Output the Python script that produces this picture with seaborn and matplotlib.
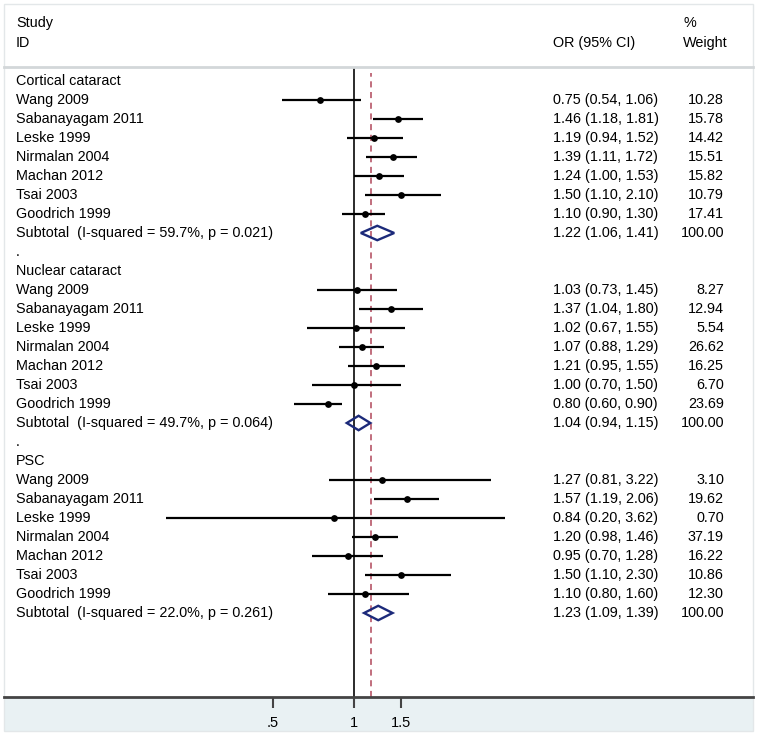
import numpy as np
import pandas as pd
import seaborn as sns
import matplotlib.pyplot as plt
from matplotlib import transforms
from matplotlib.patches import Rectangle, Polygon

# data
groups = ['Cortical cataract', 'Nuclear cataract', 'PSC']
studies = ['Wang 2009', 'Sabanayagam 2011', 'Leske 1999', 'Nirmalan 2004',
           'Machan 2012', 'Tsai 2003', 'Goodrich 1999']

or_est = [[0.75, 1.46, 1.19, 1.39, 1.24, 1.50, 1.10],
          [1.03, 1.37, 1.02, 1.07, 1.21, 1.00, 0.80],
          [1.27, 1.57, 0.84, 1.20, 0.95, 1.50, 1.10]]
ci_low = [[0.54, 1.18, 0.94, 1.11, 1.00, 1.10, 0.90],
          [0.73, 1.04, 0.67, 0.88, 0.95, 0.70, 0.60],
          [0.81, 1.19, 0.20, 0.98, 0.70, 1.10, 0.80]]
ci_high = [[1.06, 1.81, 1.52, 1.72, 1.53, 2.10, 1.30],
           [1.45, 1.80, 1.55, 1.29, 1.55, 1.50, 0.90],
           [3.22, 2.06, 3.62, 1.46, 1.28, 2.30, 1.60]]
weights = [[10.28, 15.78, 14.42, 15.51, 15.82, 10.79, 17.41],
           [8.27, 12.94, 5.54, 26.62, 16.25, 6.70, 23.69],
           [3.10, 19.62, 0.70, 37.19, 16.22, 10.86, 12.30]]

sub_or = [1.22, 1.04, 1.23]
sub_low = [1.06, 0.94, 1.09]
sub_high = [1.41, 1.15, 1.39]
sub_text = ['Subtotal  (I-squared = 59.7%, p = 0.021)',
            'Subtotal  (I-squared = 49.7%, p = 0.064)',
            'Subtotal  (I-squared = 22.0%, p = 0.261)']
overall_or = 1.156

tick_vals = [0.5, 1, 1.5]
tick_labels = ['.5', '1', '1.5']

# build row table
rows = []
for g, name in enumerate(groups):
    base = 10 * g
    for i, s in enumerate(studies):
        rows.append({'row': base + 1 + i, 'study': s, 'or': or_est[g][i],
                     'lo': ci_low[g][i], 'hi': ci_high[g][i], 'w': weights[g][i]})
df = pd.DataFrame(rows)

W, H = 757, 734
fig = plt.figure(figsize=(W / 100, H / 100), dpi=100)
fig.patch.set_facecolor('white')
plt.rcParams['font.family'] = ['Liberation Sans', 'DejaVu Sans']

def fx(px):
    return px / W

def fy(py):
    return 1 - py / H

# background band under the axis and frame
fig.add_artist(Rectangle((fx(4), fy(731)), fx(749), (731 - 698) / H,
                         transform=fig.transFigure, facecolor='#e9f1f3', edgecolor='none', zorder=0))
fig.add_artist(Rectangle((fx(4), fy(731)), fx(749), (731 - 4) / H,
                         transform=fig.transFigure, facecolor='none', edgecolor='#e3e7e9', lw=1, zorder=0))

ax = fig.add_axes([fx(4), fy(697), fx(749), (697 - 67) / H])
ax.set_facecolor('none')
ax.set_xscale('log')
ax.set_xlim(np.exp((4 - 354) / 117), np.exp((753 - 354) / 117))
ax.set_ylim((697 - 81) / 19, -(81 - 67) / 19)

# CI lines and point estimates
ax.hlines(df['row'], df['lo'], df['hi'], color='black', lw=1.6, zorder=3)
sns.scatterplot(data=df, x='or', y='row', color='black', s=24, marker='o',
                edgecolor='black', linewidth=0, ax=ax, zorder=4, legend=False)

# subtotal diamonds
for g in range(3):
    r = 10 * g + 8
    dh = 0.38
    poly = Polygon([(sub_low[g], r), (sub_or[g], r - dh), (sub_high[g], r), (sub_or[g], r + dh)],
                   closed=True, facecolor='none', edgecolor='#1c2a7a', lw=1.7, zorder=4)
    ax.add_patch(poly)

ax.axvline(1, color='#1a1a1a', lw=1.3, zorder=2)
ax.axvline(overall_or, ymin=0, ymax=0.99, color='#b0475a', lw=1.1, ls=(0, (4, 3)), zorder=2)

for s in ['top', 'left', 'right']:
    ax.spines[s].set_visible(False)
ax.spines['bottom'].set_color('#444444')
ax.spines['bottom'].set_linewidth(2)
ax.set_yticks([])
ax.set_xticks(tick_vals)
ax.set_xticklabels(tick_labels)
ax.minorticks_off()
ax.tick_params(axis='x', direction='out', length=8, width=1.5, color='#444444',
               labelsize=10.5, pad=6)
ax.set_xlabel('')
ax.set_ylabel('')

# text columns
tr = transforms.blended_transform_factory(fig.transFigure, ax.transData)
fs = 10.4
for g, name in enumerate(groups):
    base = 10 * g
    ax.text(fx(16), base, name, transform=tr, fontsize=fs, va='center', ha='left')
    for i, s in enumerate(studies):
        r = base + 1 + i
        ax.text(fx(16), r, s, transform=tr, fontsize=fs, va='center', ha='left')
        ax.text(fx(553), r, f'{or_est[g][i]:.2f} ({ci_low[g][i]:.2f}, {ci_high[g][i]:.2f})',
                transform=tr, fontsize=fs, va='center', ha='left')
        ax.text(fx(724), r, f'{weights[g][i]:.2f}', transform=tr, fontsize=fs, va='center', ha='right')
    r = base + 8
    ax.text(fx(16), r, sub_text[g], transform=tr, fontsize=fs, va='center', ha='left')
    ax.text(fx(553), r, f'{sub_or[g]:.2f} ({sub_low[g]:.2f}, {sub_high[g]:.2f})',
            transform=tr, fontsize=fs, va='center', ha='left')
    ax.text(fx(724), r, '100.00', transform=tr, fontsize=fs, va='center', ha='right')
    if g < 2:
        ax.text(fx(16), base + 9, '.', transform=tr, fontsize=fs, va='center', ha='left')

# header
fig.text(fx(16), fy(23), 'Study', fontsize=fs, va='center', ha='left')
fig.text(fx(16), fy(43), 'ID', fontsize=fs, va='center', ha='left')
fig.text(fx(553), fy(43), 'OR (95% CI)', fontsize=fs, va='center', ha='left')
fig.text(fx(683), fy(23), '%', fontsize=fs, va='center', ha='left')
fig.text(fx(683), fy(43), 'Weight', fontsize=fs, va='center', ha='left')
fig.add_artist(plt.Line2D([fx(4), fx(753)], [fy(67), fy(67)], transform=fig.transFigure,
                          color='#d3d7d9', lw=2))

fig.savefig('out.png', dpi=100, facecolor=fig.get_facecolor())
